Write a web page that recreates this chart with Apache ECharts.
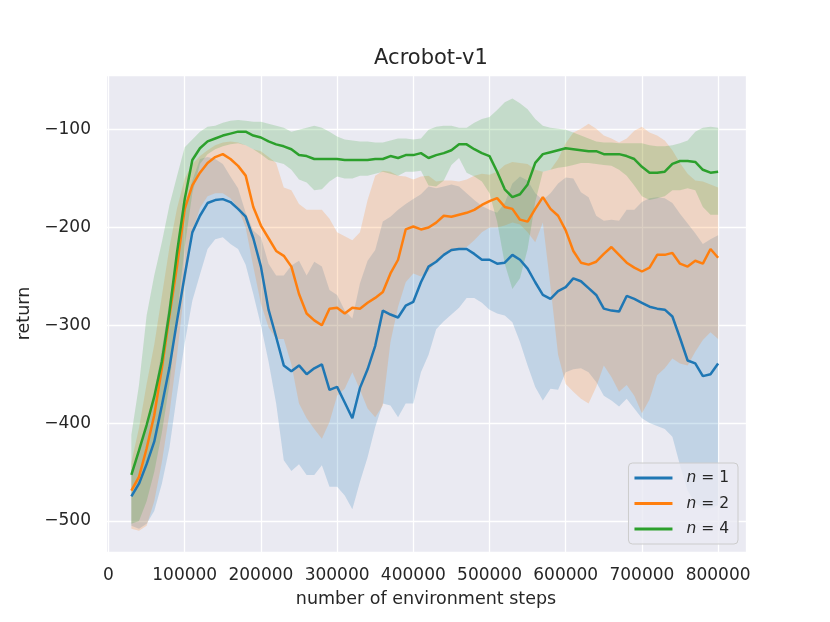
<!DOCTYPE html>
<html>
<head>
<meta charset="utf-8">
<script src="https://cdn.jsdelivr.net/npm/echarts@6/dist/echarts.min.js"></script>
<style>
  html, body { margin: 0; padding: 0; background: #ffffff; }
  #chart { width: 830px; height: 622px; }
</style>
</head>
<body>
<div id="chart"></div>
<script>
// Acrobot-v1 learning curves: mean return with a shaded band per n.

const steps = [30000, 40000, 50000, 60000, 70000, 80000, 90000, 100000, 110000, 120000,
  130000, 140000, 150000, 160000, 170000, 180000, 190000, 200000, 210000, 220000,
  230000, 240000, 250000, 260000, 270000, 280000, 290000, 300000, 310000, 320000,
  330000, 340000, 350000, 360000, 370000, 380000, 390000, 400000, 410000, 420000,
  430000, 440000, 450000, 460000, 470000, 480000, 490000, 500000, 510000, 520000,
  530000, 540000, 550000, 560000, 570000, 580000, 590000, 600000, 610000, 620000,
  630000, 640000, 650000, 660000, 670000, 680000, 690000, 700000, 710000, 720000,
  730000, 740000, 750000, 760000, 770000, 780000, 790000, 800000];

const n1Mean = [-475, -462, -442, -419, -382, -343, -295, -249, -205, -188,
  -175, -172, -171, -174, -181, -189, -211, -240, -284, -312,
  -341, -347, -341, -350, -344, -340, -366, -363, -379, -395,
  -364, -345, -321, -285, -289, -292, -280, -276, -256, -240,
  -235, -228, -223, -222, -222, -227, -233, -233, -237, -236,
  -228, -233, -242, -256, -269, -273, -265, -261, -252, -255,
  -262, -269, -283, -285, -286, -270, -273, -277, -281, -283,
  -284, -291, -313, -336, -339, -352, -350, -339];
const n1Hi = [-448, -430, -405, -370, -325, -275, -225, -180, -152, -130,
  -128, -130, -135, -148, -160, -185, -203, -210, -237, -249,
  -249, -239, -234, -249, -235, -240, -264, -269, -285, -293,
  -257, -234, -223, -194, -189, -182, -176, -171, -166, -158,
  -160, -158, -156, -158, -165, -172, -178, -182, -185, -175,
  -155, -148, -152, -165, -172, -165, -155, -149, -150, -164,
  -169, -188, -193, -192, -193, -182, -182, -174, -170, -169,
  -170, -175, -186, -196, -206, -217, -212, -208];
const n1Lo = [-505, -508, -503, -490, -462, -425, -370, -318, -275, -248,
  -222, -212, -210, -217, -222, -238, -268, -300, -337, -380,
  -438, -449, -442, -453, -453, -443, -465, -465, -474, -488,
  -460, -435, -404, -380, -382, -394, -380, -380, -348, -330,
  -304, -296, -289, -282, -272, -272, -277, -284, -288, -290,
  -297, -317, -341, -363, -377, -365, -366, -348, -345, -344,
  -348, -358, -372, -377, -383, -375, -385, -395, -400, -403,
  -406, -414, -443, -469, -482, -487, -487, -484];

const n2Mean = [-469, -455, -426, -392, -344, -290, -239, -181, -157, -144,
  -134, -128, -125, -130, -137, -147, -179, -198, -211, -224,
  -229, -240, -268, -288, -295, -300, -283, -282, -288, -282,
  -283, -277, -272, -266, -247, -233, -202, -199, -202, -200,
  -195, -188, -189, -187, -185, -182, -177, -173, -170, -179,
  -181, -192, -194, -181, -169, -181, -188, -203, -224, -236,
  -238, -235, -227, -220, -228, -236, -241, -245, -241, -228,
  -228, -226, -237, -240, -234, -237, -222, -231];
const n2Hi = [-440, -405, -360, -320, -270, -220, -180, -150, -135, -127,
  -121, -116, -113, -112, -113, -116, -120, -122, -128, -134,
  -159, -162, -176, -182, -182, -182, -191, -205, -209, -213,
  -205, -172, -147, -142, -143, -147, -148, -151, -148, -147,
  -153, -152, -152, -153, -151, -147, -145, -146, -143, -136,
  -133, -134, -135, -141, -143, -141, -130, -114, -103, -99,
  -94, -99, -106, -109, -113, -109, -101, -97, -103, -106,
  -111, -121, -134, -145, -152, -153, -156, -159];
const n2Lo = [-508, -510, -505, -480, -440, -390, -330, -260, -205, -180,
  -168, -165, -165, -170, -180, -200, -240, -278, -302, -314,
  -314, -340, -380, -395, -406, -416, -399, -372, -365, -348,
  -366, -385, -394, -382, -317, -281, -256, -247, -250, -245,
  -235, -228, -225, -222, -220, -213, -205, -200, -200, -198,
  -195, -197, -205, -215, -195, -260, -330, -360, -368, -375,
  -380, -363, -341, -353, -368, -361, -372, -390, -376, -351,
  -344, -334, -339, -341, -327, -315, -307, -314];

const n4Mean = [-453, -428, -402, -373, -337, -286, -225, -171, -131, -119,
  -112, -109, -106, -104, -102, -102, -106, -108, -112, -115,
  -117, -120, -126, -127, -130, -130, -130, -130, -131, -131,
  -131, -131, -130, -130, -127, -129, -126, -126, -124, -129,
  -126, -124, -121, -115, -115, -120, -124, -127, -143, -161,
  -169, -166, -156, -134, -125, -123, -121, -119, -120, -121,
  -122, -122, -125, -125, -125, -127, -130, -138, -144, -144,
  -143, -135, -132, -132, -133, -141, -144, -143];
const n4Hi = [-412, -361, -290, -249, -215, -177, -147, -118, -110, -102,
  -97, -96, -93, -91, -90, -91, -92, -92, -94, -96,
  -98, -102, -100, -98, -96, -98, -102, -107, -110, -111,
  -112, -112, -113, -113, -111, -109, -109, -110, -109, -100,
  -97, -96, -96, -98, -98, -93, -89, -87, -80, -72,
  -68, -73, -79, -89, -96, -98, -99, -100, -103, -106,
  -109, -112, -113, -113, -114, -114, -114, -114, -116, -117,
  -117, -116, -114, -111, -102, -98, -97, -98];
const n4Lo = [-503, -500, -480, -450, -410, -360, -290, -220, -165, -135,
  -125, -120, -117, -115, -114, -116, -120, -125, -131, -133,
  -135, -141, -151, -154, -162, -161, -153, -148, -150, -150,
  -147, -147, -145, -143, -145, -147, -143, -143, -142, -157,
  -158, -152, -136, -129, -144, -148, -153, -165, -194, -237,
  -263, -252, -222, -174, -143, -141, -139, -138, -136, -134,
  -134, -135, -136, -137, -141, -147, -157, -168, -172, -170,
  -168, -162, -162, -160, -162, -179, -187, -187];

const yTicks = [-500, -400, -300, -200, -100];
const xTicks = [0, 100000, 200000, 300000, 400000, 500000, 600000, 700000, 800000];

const BLUE = '#1f77b4';
const ORANGE = '#ff7f0e';
const GREEN = '#2ca02c';
const INK = '#262626';
const FONT = 'DejaVu Sans';

function pairs(vals) {
  return steps.map((s, i) => [s, vals[i]]);
}

function meanLine(name, vals, color) {
  return {
    name: name,
    type: 'line',
    data: pairs(vals),
    showSymbol: false,
    symbol: 'none',
    silent: true,
    lineStyle: { color: color, width: 2.5 },
    itemStyle: { color: color },
    animation: false
  };
}

// shaded band (like fill_between): one polygon, upper edge then lower edge back
function band(key, lo, hi, color) {
  return {
    name: key,
    type: 'custom',
    silent: true,
    clip: true,
    animation: false,
    data: steps.map((s, i) => [s, lo[i], hi[i]]),
    encode: { x: 0, y: [1, 2] },
    renderItem: function (params, api) {
      if (params.dataIndex !== 0) return null;
      const top = steps.map((s, i) => api.coord([s, hi[i]]));
      const bottom = steps.map((s, i) => api.coord([s, lo[i]])).reverse();
      return {
        type: 'polygon',
        shape: { points: top.concat(bottom) },
        style: { fill: color, opacity: 0.2 }
      };
    }
  };
}

const chart = echarts.init(document.getElementById('chart'));
chart.setOption({
  animation: false,
  backgroundColor: '#ffffff',
  title: {
    text: 'Acrobot-v1',
    left: 426,
    top: 43,
    textAlign: 'center',
    textStyle: { fontFamily: FONT, fontSize: 21, fontWeight: 'normal', color: INK }
  },
  grid: {
    left: 106, right: 84, top: 75, bottom: 70,
    show: true, backgroundColor: '#EAEAF2', borderWidth: 0
  },
  legend: {
    data: ['n = 1', 'n = 2', 'n = 4'],
    orient: 'vertical',
    right: 92,
    bottom: 78,
    icon: 'rect',
    itemWidth: 38,
    itemHeight: 3,
    itemGap: 9.5,
    padding: [7, 9, 7, 6],
    backgroundColor: 'rgba(234,234,242,0.8)',
    borderColor: '#cccccc',
    borderWidth: 1,
    borderRadius: 4,
    formatter: name => '{i|n}{r| = ' + name.split('= ')[1] + '}',
    textStyle: {
      fontFamily: FONT, fontSize: 15.5, color: INK, padding: [0, 0, 0, 9],
      rich: {
        i: { fontFamily: FONT, fontSize: 15.5, fontStyle: 'italic', color: INK, lineHeight: 17 },
        r: { fontFamily: FONT, fontSize: 15.5, color: INK, lineHeight: 17 }
      }
    }
  },
  xAxis: {
    type: 'value',
    min: -3300,
    max: 836600,
    splitNumber: 8,
    minInterval: 100000,
    maxInterval: 100000,
    name: 'number of environment steps',
    nameLocation: 'middle',
    nameGap: 38,
    nameTextStyle: { fontFamily: FONT, fontSize: 17.5, color: INK },
    axisLine: { show: false },
    axisTick: { show: false },
    axisLabel: {
      margin: 15,
      fontFamily: FONT, fontSize: 17, color: INK,
      formatter: v => (xTicks.indexOf(v) >= 0 ? String(v) : '')
    },
    splitLine: { show: true, lineStyle: { color: '#ffffff', width: 1.3 } }
  },
  yAxis: {
    type: 'value',
    min: -531.8,
    max: -44.1,
    splitNumber: 5,
    minInterval: 100,
    maxInterval: 100,
    name: 'return',
    nameLocation: 'middle',
    nameGap: 63,
    nameRotate: 90,
    nameTextStyle: { fontFamily: FONT, fontSize: 17.5, color: INK },
    axisLine: { show: false },
    axisTick: { show: false },
    axisLabel: {
      margin: 15,
      fontFamily: FONT, fontSize: 17, color: INK,
      formatter: v => (yTicks.indexOf(v) >= 0 ? '\u2212' + Math.abs(v) : '')
    },
    splitLine: { show: true, lineStyle: { color: '#ffffff', width: 1.3 } }
  },
  series: [
    meanLine('n = 1', n1Mean, BLUE),
    band('b1', n1Lo, n1Hi, BLUE),
    meanLine('n = 2', n2Mean, ORANGE),
    band('b2', n2Lo, n2Hi, ORANGE),
    meanLine('n = 4', n4Mean, GREEN),
    band('b4', n4Lo, n4Hi, GREEN)
  ]
});
</script>
</body>
</html>
